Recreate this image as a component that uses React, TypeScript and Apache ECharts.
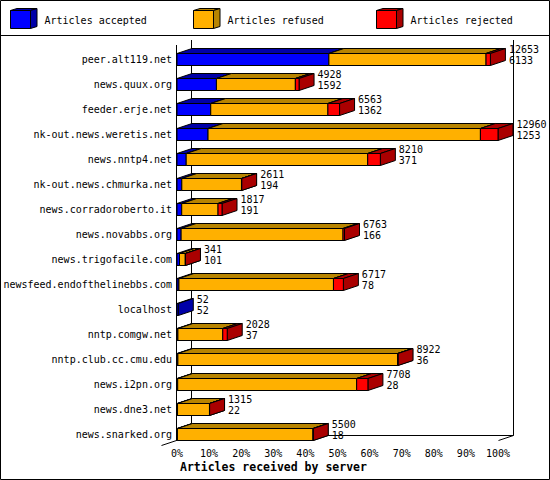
import React, { useEffect, useRef } from 'react'
import * as echarts from 'echarts'

// server names, top to bottom
const servers = [
  'peer.alt119.net',
  'news.quux.org',
  'feeder.erje.net',
  'nk-out.news.weretis.net',
  'news.nntp4.net',
  'nk-out.news.chmurka.net',
  'news.corradoroberto.it',
  'news.novabbs.org',
  'news.trigofacile.com',
  'newsfeed.endofthelinebbs.com',
  'localhost',
  'nntp.comgw.net',
  'nntp.club.cc.cmu.edu',
  'news.i2pn.org',
  'news.dne3.net',
  'news.snarked.org'
]

// articles received (upper label) and accepted (lower label)
const totals = [12653, 4928, 6563, 12960, 8210, 2611, 1817, 6763, 341, 6717, 52, 2028, 8922, 7708, 1315, 5500]
const accepted = [6133, 1592, 1362, 1253, 371, 194, 191, 166, 101, 78, 52, 37, 36, 28, 22, 18]
// rejected, estimated from the red part of each bar
const rejected = [176, 150, 470, 710, 510, 8, 160, 60, 5, 400, 0, 180, 12, 455, 4, 6]

const xTicks = [0, 10, 20, 30, 40, 50, 60, 70, 80, 90, 100]
const legendNames = ['Articles accepted', 'Articles refused', 'Articles rejected']

const FRONT = ['#0000ff', '#ffb000', '#ff0000']
const DARK = ['#0000a8', '#b88400', '#aa0000']
const FONT = '"DejaVu Sans Mono", monospace'
const DX = 15
const DY = 5
const H = 12

const maxTotal = Math.max(...totals)
const pct = (v: number) => (v / maxTotal) * 100

const App: React.FC = () => {
  const chartRef = useRef<HTMLDivElement>(null)

  useEffect(() => {
    if (!chartRef.current) return
    const chart = echarts.init(chartRef.current, undefined, { renderer: 'svg' })

    const data = servers.map((_, i) => {
      const refused = totals[i] - accepted[i] - rejected[i]
      return [i, pct(accepted[i]), pct(refused), pct(rejected[i]), totals[i], accepted[i]]
    })

    const line = (x1: number, y1: number, x2: number, y2: number) => ({
      type: 'line',
      shape: { x1, y1, x2, y2 },
      style: { stroke: '#000', lineWidth: 1 },
      silent: true
    })

    // legend boxes
    const legendX = [10.5, 193.5, 376.5]
    const legendItems: any[] = []
    legendNames.forEach((name, k) => {
      const x = legendX[k]
      legendItems.push(
        {
          type: 'polygon',
          shape: { points: [[x, 10.5], [x + 20, 10.5], [x + 26.5, 8.5], [x + 6.5, 8.5]] },
          style: { fill: DARK[k], stroke: '#000', lineWidth: 1 }
        },
        {
          type: 'polygon',
          shape: { points: [[x + 20, 10.5], [x + 26.5, 8.5], [x + 26.5, 26.5], [x + 20, 28.5]] },
          style: { fill: DARK[k], stroke: '#000', lineWidth: 1 }
        },
        {
          type: 'rect',
          shape: { x, y: 10.5, width: 20, height: 18 },
          style: { fill: FRONT[k], stroke: '#000', lineWidth: 1 }
        },
        {
          type: 'text',
          x: x + 34,
          y: 20,
          style: { text: name, fill: '#000', font: `10px ${FONT}`, verticalAlign: 'middle' }
        }
      )
    })

    const option: echarts.EChartsOption = {
      animation: false,
      backgroundColor: '#fff',
      grid: { left: 177, top: 46.5, width: 321, height: 400, containLabel: false },
      xAxis: {
        type: 'value',
        min: xTicks[0],
        max: xTicks[xTicks.length - 1],
        interval: xTicks[1] - xTicks[0],
        axisLine: { show: false },
        axisTick: { show: false },
        splitLine: { show: false },
        axisLabel: {
          formatter: '{value}%',
          color: '#000',
          fontFamily: FONT,
          fontSize: 10,
          margin: 2
        }
      },
      yAxis: {
        type: 'category',
        inverse: true,
        data: servers,
        axisLine: { show: false },
        axisTick: { show: false },
        splitLine: { show: false },
        axisLabel: { color: '#000', fontFamily: FONT, fontSize: 10, margin: 5 }
      },
      graphic: [
        { type: 'rect', shape: { x: 0.5, y: 0.5, width: 549, height: 479 }, style: { fill: 'none', stroke: '#000', lineWidth: 1 }, silent: true },
        line(0, 35.5, 550, 35.5),
        ...legendItems,
        // walls of the 3D box
        line(176.5, 45, 176.5, 440),
        line(191.5, 40, 191.5, 435.5),
        line(513.5, 40, 513.5, 435.5),
        line(191.5, 435.5, 513.5, 435.5),
        line(191.5, 435.5, 161.5, 445.5),
        line(513.5, 435.5, 498.5, 440.5),
        {
          type: 'text',
          x: 180,
          y: 467,
          style: {
            text: 'Articles received by server',
            fill: '#000',
            font: `bold 11.5px ${FONT}`,
            verticalAlign: 'middle'
          }
        }
      ] as any,
      series: [
        {
          type: 'custom',
          clip: false,
          encode: { x: [1, 2, 3], y: 0 },
          data,
          renderItem: (params: any, api: any) => {
            const i = api.value(0)
            const vals = [api.value(1), api.value(2), api.value(3)]
            const yc = api.coord([0, i])[1]
            const yT = Math.round(yc - H / 2) + 0.5
            const yB = yT + H
            const children: any[] = []
            let cum = 0
            vals.forEach((v: number, k: number) => {
              if (v <= 0) return
              const xa = api.coord([cum, i])[0]
              cum += v
              const xb = api.coord([cum, i])[0]
              children.push(
                {
                  type: 'polygon',
                  shape: { points: [[xa, yT], [xb, yT], [xb + DX, yT - DY], [xa + DX, yT - DY]] },
                  style: { fill: DARK[k], stroke: '#000', lineWidth: 1 }
                },
                {
                  type: 'polygon',
                  shape: { points: [[xb, yT], [xb + DX, yT - DY], [xb + DX, yB - DY], [xb, yB]] },
                  style: { fill: DARK[k], stroke: '#000', lineWidth: 1 }
                },
                {
                  type: 'rect',
                  shape: { x: xa, y: yT, width: xb - xa, height: H },
                  style: { fill: FRONT[k], stroke: '#000', lineWidth: 1 }
                }
              )
            })
            const xEnd = api.coord([cum, i])[0]
            children.push({
              type: 'text',
              x: xEnd + DX + 3.5,
              y: yc - 4,
              style: {
                text: `${api.value(4)}\n${api.value(5)}`,
                fill: '#000',
                fontFamily: FONT,
                fontSize: 10,
                lineHeight: 11.5,
                verticalAlign: 'middle'
              }
            })
            return { type: 'group', children }
          }
        }
      ]
    }

    chart.setOption(option)
    return () => {
      chart.dispose()
    }
  }, [])

  return <div ref={chartRef} style={{ position: 'absolute', left: 0, top: 0, width: 550, height: 480 }} />
}

export default App
